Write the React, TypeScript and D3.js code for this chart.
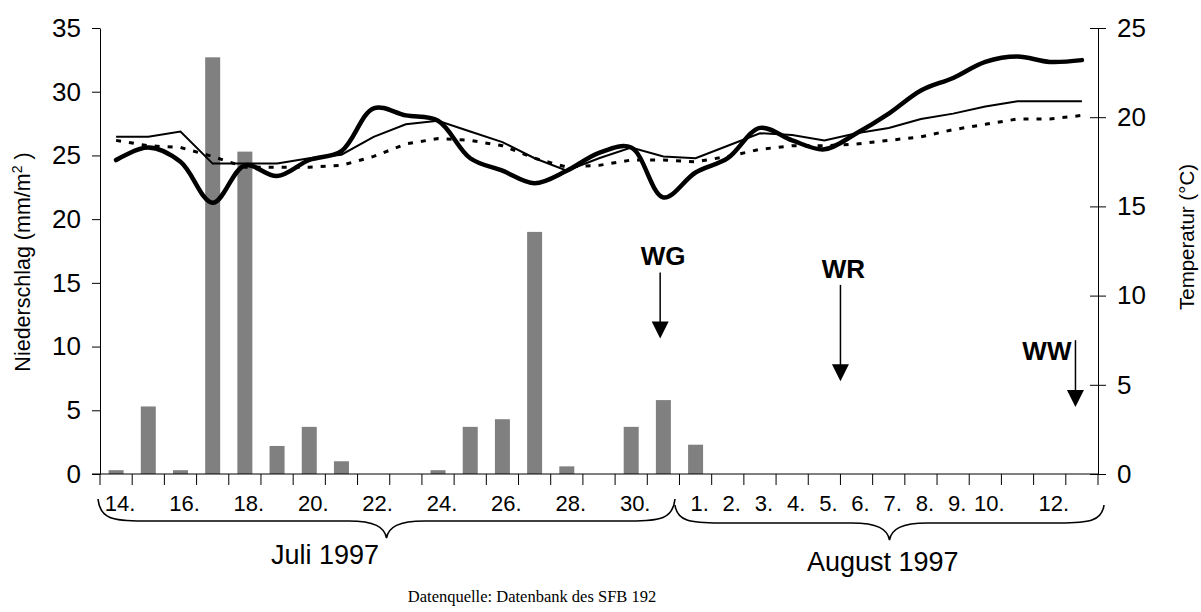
import React, { useEffect, useRef } from "react";
import * as d3 from "d3";

// ---- data ----
const julyDays = [14, 15, 16, 17, 18, 19, 20, 21, 22, 23, 24, 25, 26, 27, 28, 29, 30, 31];
const augDays = [1, 2, 3, 4, 5, 6, 7, 8, 9, 10, 11, 12, 13];
const julyLabeled = [14, 16, 18, 20, 22, 24, 26, 28, 30];
const augLabeled = [1, 2, 3, 4, 5, 6, 7, 8, 9, 10, 12];

// Niederschlag (mm/m²) per day
const precipitation = [0.3, 5.3, 0.3, 32.7, 25.3, 2.2, 3.7, 1.0, 0, 0, 0.3, 3.7, 4.3, 19.0, 0.6, 0, 3.7, 5.8, 2.3, 0, 0, 0, 0, 0, 0, 0, 0, 0, 0, 0, 0];
// Temperaturen (°C)
const tempThick = [17.6, 18.3, 17.5, 15.2, 17.3, 16.7, 17.6, 18.1, 20.5, 20.1, 19.8, 17.7, 17.0, 16.3, 17.0, 18.0, 18.3, 15.5, 16.9, 17.7, 19.4, 18.7, 18.2, 19.1, 20.2, 21.5, 22.2, 23.1, 23.4, 23.1, 23.2];
const tempThin = [18.9, 18.9, 19.2, 17.4, 17.4, 17.4, 17.7, 17.9, 18.9, 19.6, 19.8, 19.2, 18.6, 17.7, 17.0, 17.7, 18.3, 17.8, 17.7, 18.4, 19.1, 19.0, 18.7, 19.1, 19.4, 19.9, 20.2, 20.6, 20.9, 20.9, 20.9];
const tempDotted = [18.7, 18.4, 18.3, 17.8, 17.2, 17.2, 17.2, 17.3, 17.8, 18.5, 18.8, 18.7, 18.4, 17.7, 17.2, 17.3, 17.6, 17.6, 17.5, 17.8, 18.2, 18.4, 18.4, 18.5, 18.7, 18.9, 19.3, 19.6, 19.9, 19.9, 20.1];

const leftTicks = [0, 5, 10, 15, 20, 25, 30, 35];
const rightTicks = [0, 5, 10, 15, 20, 25];

// events: label, day key, shift (in day steps), temperature level of arrow top & tip
const events = [
  { label: "WG", key: "J31", shift: -0.1, top: 11.3, tip: 7.6, anchor: "middle" },
  { label: "WR", key: "A5", shift: 0.5, top: 10.6, tip: 5.2, anchor: "middle" },
  { label: "WW", key: "A13", shift: -0.2, top: 7.5, tip: 3.75, anchor: "end" },
];

const keys = [...julyDays.map((d) => "J" + d), ...augDays.map((d) => "A" + d)];
const labelOf = (k: string) => {
  const m = k[0];
  const d = +k.slice(1);
  if (m === "J") return julyLabeled.includes(d) ? d + "." : "";
  return augLabeled.includes(d) ? d + "." : "";
};

const FONT = "'Liberation Sans', Arial, sans-serif";

export default function App() {
  const leftRef = useRef<SVGGElement>(null);
  const rightRef = useRef<SVGGElement>(null);

  const left = 100, right = 1098, top = 28, bottom = 474;
  const x = d3.scaleBand<string>().domain(keys).range([left, right]).paddingInner(0.534).paddingOuter(0.267);
  const cx = (k: string) => (x(k) as number) + x.bandwidth() / 2;
  const yL = d3.scaleLinear().domain([0, 35]).range([bottom, top]);
  const yR = d3.scaleLinear().domain([0, 25]).range([bottom, top]);

  useEffect(() => {
    document.body.style.margin = "0";
    const gl = d3.select(leftRef.current!);
    gl.call(d3.axisLeft(yL).tickValues(leftTicks).tickSize(8).tickPadding(11).tickSizeOuter(0) as any);
    gl.selectAll("text").style("font-family", FONT).style("font-size", "26px").attr("fill", "#000");
    gl.selectAll("line").attr("stroke", "#000");
    gl.select(".domain").attr("stroke", "#000");
    const gr = d3.select(rightRef.current!);
    gr.call(d3.axisRight(yR).tickValues(rightTicks).tickSize(8).tickPadding(11).tickSizeOuter(0) as any);
    gr.selectAll("text").style("font-family", FONT).style("font-size", "26px").attr("fill", "#000");
    gr.selectAll(".tick line").attr("x1", -8).attr("stroke", "#000");
    gr.select(".domain").attr("stroke", "#000");
  }, []);

  const lineThick = d3.line<number>().x((_, i) => cx(keys[i])).y((v) => yR(v)).curve(d3.curveCatmullRom.alpha(0.5));
  const lineStraight = d3.line<number>().x((_, i) => cx(keys[i])).y((v) => yR(v));

  const boundaries = d3.range(keys.length + 1).map((i) => left + i * x.step());

  const braceJ = { x0: 98, x1: 675, y0: 499, y1: 521, y2: 538 };
  const braceA = { x0: 675, x1: 1104, y0: 505, y1: 523, y2: 540 };
  const brace = (b: any) => {
    const m = (b.x0 + b.x1) / 2;
    return `M${b.x0},${b.y0} C${b.x0 + 2},${b.y1 - 2} ${b.x0 + 15},${b.y1} ${b.x0 + 45},${b.y1} L${m - 38},${b.y1} C${m - 12},${b.y1} ${m - 2},${b.y1 + 6} ${m},${b.y2} C${m + 2},${b.y1 + 6} ${m + 12},${b.y1} ${m + 38},${b.y1} L${b.x1 - 45},${b.y1} C${b.x1 - 15},${b.y1} ${b.x1 - 2},${b.y1 - 2} ${b.x1},${b.y0}`;
  };

  return (
    <svg width={1201} height={612} style={{ position: "absolute", left: 0, top: 0, background: "#fff" }}>
      <rect x={0} y={0} width={1201} height={612} fill="#fff" />
      {/* bars */}
      {precipitation.map((v, i) =>
        v > 0 ? (
          <rect key={i} x={x(keys[i])} y={yL(v)} width={x.bandwidth()} height={yL(0) - yL(v)} fill="#808080" />
        ) : null
      )}
      {/* temperature lines */}
      <path d={lineStraight(tempDotted) || ""} fill="none" stroke="#000" strokeWidth={3} strokeDasharray="5,8" />
      <path d={lineStraight(tempThin) || ""} fill="none" stroke="#000" strokeWidth={2} />
      <path d={lineThick(tempThick) || ""} fill="none" stroke="#000" strokeWidth={4.5} strokeLinejoin="round" strokeLinecap="round" />

      {/* axes */}
      <g ref={leftRef} transform={`translate(${left},0)`} />
      <g ref={rightRef} transform={`translate(${right},0)`} />
      <line x1={left - 8} x2={right} y1={bottom} y2={bottom} stroke="#000" />
      {boundaries.map((b, i) => (
        <line key={i} x1={b} x2={b} y1={bottom} y2={bottom + 11} stroke="#000" />
      ))}
      {keys.map((k) => (
        <text key={k} x={cx(k) + 4} y={511} textAnchor="middle" fontFamily={FONT} fontSize={22}>
          {labelOf(k)}
        </text>
      ))}

      {/* braces */}
      <path d={brace(braceJ)} fill="none" stroke="#000" strokeWidth={1.6} />
      <path d={brace(braceA)} fill="none" stroke="#000" strokeWidth={1.6} />
      <text x={271} y={564} fontFamily={FONT} fontSize={27}>Juli 1997</text>
      <text x={807} y={571} fontFamily={FONT} fontSize={27}>August 1997</text>

      {/* axis titles */}
      <text transform={`translate(30,262) rotate(-90)`} textAnchor="middle" fontFamily={FONT} fontSize={21.5}>
        Niederschlag (mm/m<tspan dy={-8} fontSize={14}>2</tspan><tspan dy={8}> )</tspan>
      </text>
      <text transform={`translate(1194,237) rotate(-90)`} textAnchor="middle" fontFamily={FONT} fontSize={20.5}>
        Temperatur (°C)
      </text>

      {/* events */}
      {events.map((e) => {
        const ax = cx(e.key) + e.shift * x.step();
        const tipY = yR(e.tip);
        const headTop = tipY - 17;
        const lineTop = yR(e.top);
        const tx = e.anchor === "end" ? ax - 4 : ax + 3;
        const ty = e.anchor === "end" ? lineTop + 20 : lineTop - 7;
        return (
          <g key={e.label}>
            <line x1={ax} x2={ax} y1={lineTop} y2={headTop + 1} stroke="#000" strokeWidth={1.5} />
            <polygon points={`${ax - 8.5},${headTop} ${ax + 8.5},${headTop} ${ax},${tipY}`} fill="#000" />
            <text x={tx} y={ty} textAnchor={e.anchor} fontFamily={FONT} fontWeight="bold" fontSize={26}>
              {e.label}
            </text>
          </g>
        );
      })}

      <text x={532} y={602} textAnchor="middle" fontFamily="'Liberation Serif', 'Times New Roman', serif" fontSize={16.5}>
        Datenquelle: Datenbank des SFB 192
      </text>
    </svg>
  );
}
